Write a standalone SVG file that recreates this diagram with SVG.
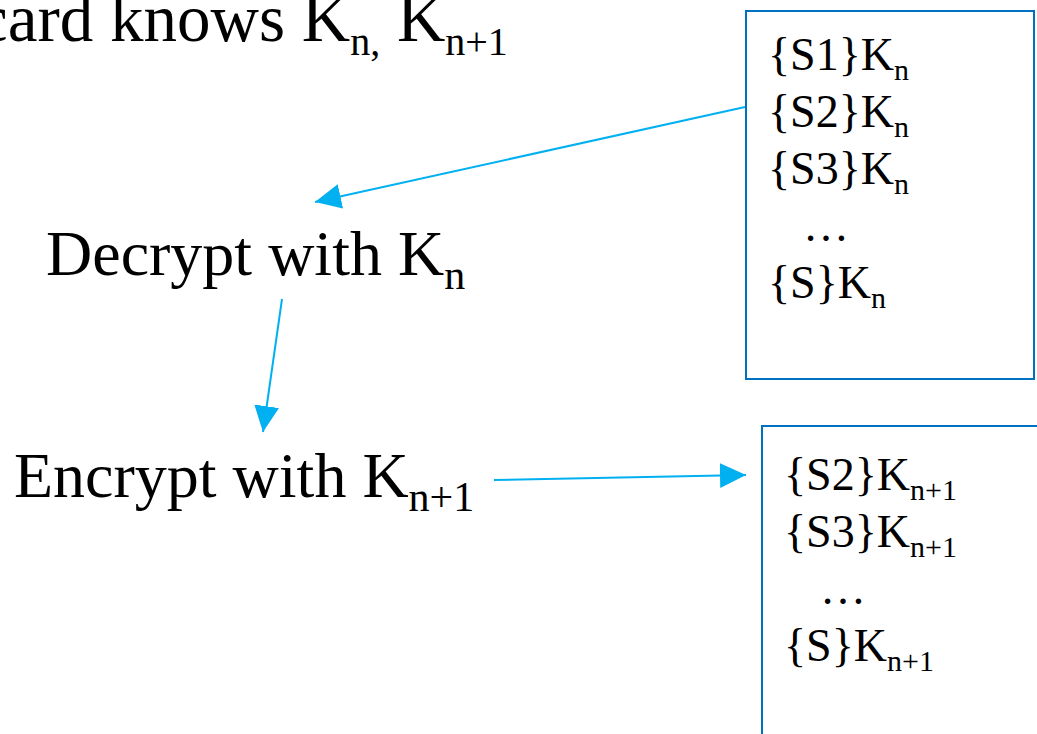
<svg xmlns="http://www.w3.org/2000/svg" width="1037" height="734" viewBox="0 0 1037 734">
<style>
text{font-family:"Liberation Serif","Times New Roman",serif;fill:#000}
.title{font-size:67px}
.tsb{font-size:40px}
.big{font-size:64px}
.sb{font-size:42px}
.box{font-size:46px}
.sm{font-size:30px}
.frame{fill:none;stroke:#0070C0;stroke-width:2}
.conn{stroke:#00B0F0;stroke-width:2;fill:none;marker-end:url(#ah)}
</style>
<defs>
<marker id="ah" markerUnits="userSpaceOnUse" markerWidth="27" markerHeight="26" refX="26" refY="12.5" orient="auto">
<path d="M0,0 L26,12.5 L0,25 z" fill="#00B0F0"/>
</marker>
</defs>
<g id="title">
<text class="title" x="-22" y="41">card knows K<tspan class="tsb" dy="14">n,</tspan><tspan dy="-14"> K</tspan><tspan class="tsb" dy="14">n+1</tspan></text>
</g>
<g id="decrypt">
<text class="big" x="46" y="275">Decrypt with K<tspan class="sb" dy="14">n</tspan></text>
</g>
<g id="encrypt">
<text class="big" x="14" y="497">Encrypt with K<tspan class="sb" dy="14">n+1</tspan></text>
</g>
<g id="box-kn">
<rect class="frame" x="746" y="11" width="288" height="368"/>
<text class="box" x="768" y="70">{S1}K<tspan class="sm" dy="10">n</tspan></text>
<text class="box" x="768" y="127">{S2}K<tspan class="sm" dy="10">n</tspan></text>
<text class="box" x="768" y="184">{S3}K<tspan class="sm" dy="10">n</tspan></text>
<text class="box" x="803" y="241">…</text>
<text class="box" x="768" y="298">{S}K<tspan class="sm" dy="10">n</tspan></text>
</g>
<g id="box-kn1">
<rect class="frame" x="762" y="426" width="290" height="320"/>
<text class="box" x="784" y="490">{S2}K<tspan class="sm" dy="10">n+1</tspan></text>
<text class="box" x="784" y="547">{S3}K<tspan class="sm" dy="10">n+1</tspan></text>
<text class="box" x="820" y="604">…</text>
<text class="box" x="784" y="661">{S}K<tspan class="sm" dy="10">n+1</tspan></text>
</g>
<g id="connectors">
<line class="conn" x1="745" y1="107" x2="315" y2="202"/>
<line class="conn" x1="282" y1="299" x2="263" y2="432"/>
<line class="conn" x1="494" y1="480" x2="746" y2="475"/>
</g>
</svg>
